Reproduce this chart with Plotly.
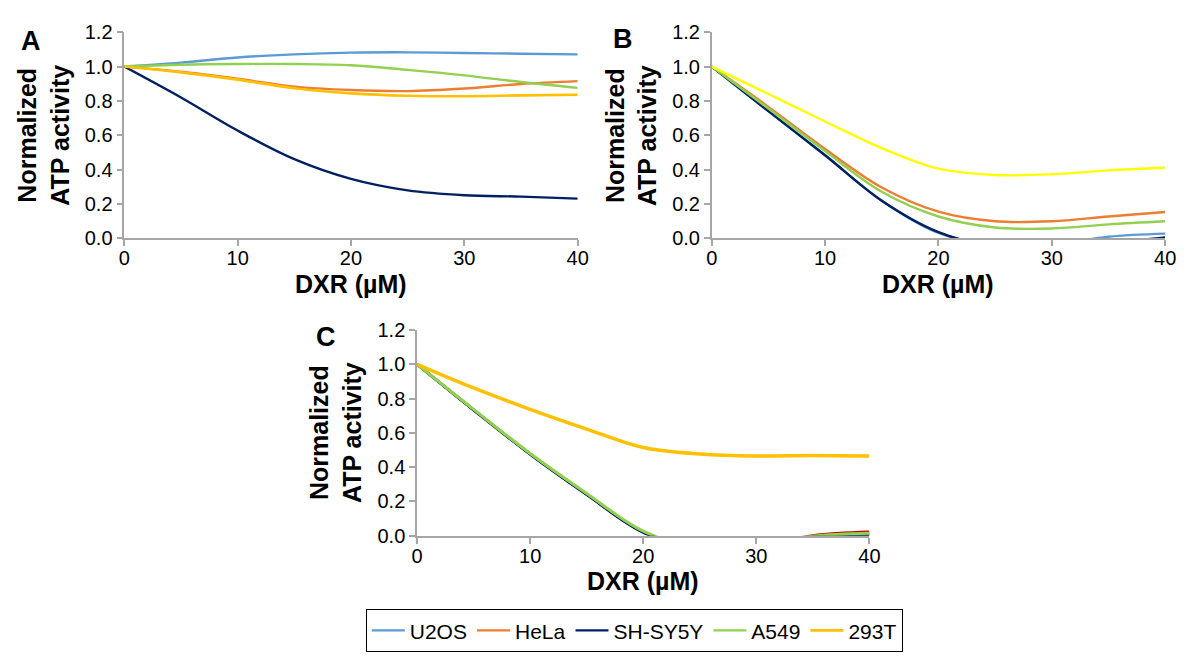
import plotly.graph_objects as go

# ---------------- data ----------------
dose = [0, 5, 10, 15, 20, 25, 30, 35, 40]
cell_lines = ["U2OS", "HeLa", "SH-SY5Y", "A549", "293T"]

A_U2OS = [1.0, 1.023, 1.053, 1.071, 1.081, 1.083, 1.079, 1.075, 1.071]
A_HeLa = [1.0, 0.97, 0.929, 0.883, 0.863, 0.857, 0.872, 0.898, 0.915]
A_SHSY5Y = [1.0, 0.82, 0.627, 0.46, 0.345, 0.278, 0.25, 0.242, 0.23]
A_A549 = [1.0, 1.011, 1.015, 1.015, 1.008, 0.981, 0.949, 0.91, 0.876]
A_293T = [1.0, 0.966, 0.924, 0.874, 0.844, 0.83, 0.827, 0.832, 0.836]

B_U2OS = [1.0, 0.74, 0.483, 0.218, 0.03, -0.04, -0.04, 0.008, 0.026]
B_HeLa = [1.0, 0.765, 0.52, 0.295, 0.154, 0.098, 0.098, 0.126, 0.152]
B_SHSY5Y = [1.0, 0.74, 0.483, 0.218, 0.035, -0.05, -0.07, -0.03, 0.004]
B_A549 = [1.0, 0.756, 0.507, 0.27, 0.126, 0.062, 0.056, 0.08, 0.098]
B_293T = [1.0, 0.84, 0.68, 0.525, 0.405, 0.368, 0.372, 0.395, 0.41]

C_U2OS = [1.0, 0.735, 0.478, 0.243, 0.022, -0.07, -0.06, -0.004, 0.01]
C_HeLa = [1.0, 0.735, 0.478, 0.243, 0.022, -0.07, -0.06, 0.002, 0.023]
C_SHSY5Y = [1.0, 0.733, 0.475, 0.24, 0.02, -0.07, -0.06, -0.006, 0.004]
C_A549 = [1.0, 0.737, 0.48, 0.247, 0.027, -0.07, -0.06, -0.002, 0.015]
C_293T = [1.0, 0.862, 0.737, 0.622, 0.515, 0.477, 0.465, 0.468, 0.465]

x_ticks = [0, 10, 20, 30, 40]
y_ticks = [0.0, 0.2, 0.4, 0.6, 0.8, 1.0, 1.2]
x_title = "DXR (µM)"
y_title_lines = ["Normalized", "ATP activity"]
panel_labels = ["A", "B", "C"]

colors_A = ["#5b9bd5", "#ed7d31", "#002060", "#92d050", "#ffc000"]
colors_B = ["#5b9bd5", "#ed7d31", "#002060", "#92d050", "#ffff00"]
colors_C = ["#5b9bd5", "#c00000", "#002060", "#92d050", "#ffc000"]

panels = [
    ([A_U2OS, A_HeLa, A_SHSY5Y, A_A549, A_293T], colors_A, "x", "y", True, [2.4, 2.4, 2.4, 2.4, 2.6]),
    ([B_U2OS, B_HeLa, B_SHSY5Y, B_A549, B_293T], colors_B, "x2", "y2", False, [2.4, 2.4, 2.4, 2.4, 2.4]),
    ([C_U2OS, C_HeLa, C_SHSY5Y, C_A549, C_293T], colors_C, "x3", "y3", False, [2.6, 2.6, 2.8, 3.0, 3.5]),
]

FONT = "Liberation Sans, Arial, sans-serif"
W, H = 1187, 656

fig = go.Figure()
for series, cols, xa, ya, show, widths in panels:
    for i, (name, vals) in enumerate(zip(cell_lines, series)):
        fig.add_trace(go.Scatter(
            x=dose, y=vals, name=name, mode="lines",
            line=dict(color=cols[i], width=widths[i], shape="spline", smoothing=1.0),
            xaxis=xa, yaxis=ya, showlegend=show, hoverinfo="skip",
        ))


def px_x(a, b):
    return [a / W, b / W]


def px_y(top, bottom):
    return [1 - bottom / H, 1 - top / H]


dom = {
    "A": (px_x(120, 580), px_y(22, 235)),
    "B": (px_x(716, 1176), px_y(22, 235)),
    "C": (px_x(417, 876), px_y(330, 543)),
}

axis_common = dict(
    showgrid=False, zeroline=False, showline=True, linecolor="#a6a6a6", linewidth=1.5,
    ticks="outside", ticklen=6, tickwidth=1.5, tickcolor="#a6a6a6",
    tickfont=dict(family=FONT, size=20, color="#000000"),
)

layout = dict(
    width=W, height=H, margin=dict(l=0, r=0, t=0, b=0),
    paper_bgcolor="white", plot_bgcolor="white",
    font=dict(family=FONT, color="#000000"),
    showlegend=True,
    legend=dict(
        orientation="h", x=365 / W, xanchor="left", y=1 - 619 / H, yanchor="top",
        bordercolor="#000000", borderwidth=1, bgcolor="white",
        font=dict(family=FONT, size=21, color="#000000"),
        itemwidth=33, tracegroupgap=0,
    ),
)

annotations = []
for k, key in enumerate(["A", "B", "C"]):
    xa = "xaxis" if k == 0 else f"xaxis{k + 1}"
    ya = "yaxis" if k == 0 else f"yaxis{k + 1}"
    anchor_x = "y" if k == 0 else f"y{k + 1}"
    anchor_y = "x" if k == 0 else f"x{k + 1}"
    xd, yd = dom[key]
    layout[xa] = dict(domain=xd, range=[0, 40], tickvals=x_ticks, anchor=anchor_x,
                      ticklabelstandoff=-5, **axis_common)
    layout[ya] = dict(domain=yd, range=[0, 1.2], tickvals=y_ticks, tickformat=".1f",
                      anchor=anchor_y, **axis_common)
    x0, x1 = xd
    y0, y1 = yd
    annotations.append(dict(
        text="<br>".join("<b>" + t + "</b>" for t in y_title_lines), textangle=-90,
        x=x0 - 82 / W, y=(y0 + y1) / 2, xref="paper", yref="paper",
        xanchor="center", yanchor="middle", showarrow=False,
        font=dict(family=FONT, size=25, color="#000000"),
    ))
    annotations.append(dict(
        text="<b>" + x_title + "</b>",
        x=(x0 + x1) / 2, y=y0 - 47 / H, xref="paper", yref="paper",
        xanchor="center", yanchor="middle", showarrow=False,
        font=dict(family=FONT, size=25, color="#000000"),
    ))

label_pos = {"A": (25, 31), "B": (626, 29), "C": (325, 337)}
for lab in panel_labels:
    px, py = label_pos[lab]
    annotations.append(dict(
        text="<b>" + lab + "</b>", x=px / W, y=1 - py / H, xref="paper", yref="paper",
        xanchor="center", yanchor="middle", showarrow=False,
        font=dict(family=FONT, size=27, color="#000000"),
    ))

layout["annotations"] = annotations
fig.update_layout(**layout)
fig.write_html(
    "out.html",
    config={"displayModeBar": False},
    post_script="document.body.style.margin='0px';document.body.style.overflow='hidden';",
)
